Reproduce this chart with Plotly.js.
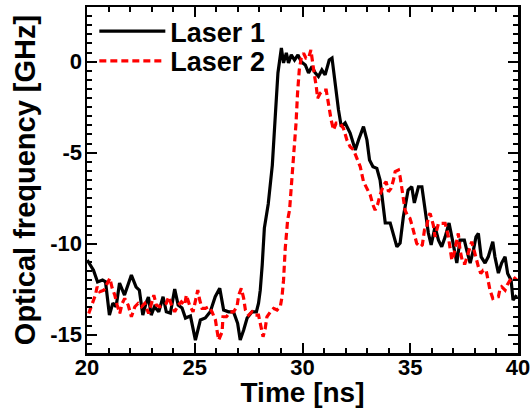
<!DOCTYPE html>
<html>
<head>
<meta charset="utf-8">
<script src="https://cdn.plot.ly/plotly-3.0.1.min.js"></script>
<style>html,body{margin:0;padding:0;background:#fff;}#chart{width:532px;height:408px;}</style>
</head>
<body>
<div id="chart"></div>
<script>
// Laser 1 (black solid)
const laser1Time = [20.01,20.30,20.49,20.72,20.86,21.04,21.20,21.35,21.51,21.74,22.06,22.28,22.43,22.59,22.74,22.85,22.98,23.13,23.33,23.53,23.68,23.87,24.07,24.23,24.41,24.57,24.80,25.03,25.26,25.49,25.72,25.95,26.16,26.34,26.57,26.80,26.99,27.11,27.27,27.43,27.66,27.86,27.96,28.04,28.13,28.23,28.41,28.60,28.74,28.86,29.02,29.12,29.25,29.35,29.48,29.63,29.79,29.94,30.13,30.28,30.44,30.59,30.74,30.90,31.05,31.24,31.37,31.52,31.67,31.80,31.98,32.21,32.45,32.60,32.83,32.99,33.11,33.27,33.45,33.60,33.71,33.84,34.07,34.21,34.38,34.53,34.68,34.90,35.07,35.19,35.38,35.54,35.69,35.84,35.97,36.15,36.31,36.46,36.62,36.80,36.96,37.16,37.31,37.51,37.62,37.78,37.93,38.05,38.16,38.29,38.47,38.62,38.83,38.93,39.09,39.24,39.40,39.52,39.68,39.77,39.94];
const laser1Freq = [-10.90,-11.45,-12.10,-11.99,-12.09,-13.92,-13.26,-13.46,-12.16,-12.82,-11.72,-12.38,-12.55,-13.92,-13.26,-12.93,-13.92,-13.46,-13.74,-12.91,-13.74,-13.81,-12.49,-13.37,-13.53,-14.08,-13.97,-15.29,-14.19,-14.08,-13.74,-12.91,-12.45,-13.64,-13.74,-13.74,-14.37,-15.29,-14.74,-14.08,-13.74,-13.74,-13.26,-12.55,-11.17,-9.14,-7.82,-5.68,-2.93,-0.62,0.75,-0.07,0.48,-0.07,0.37,0.09,0.37,0.00,-0.18,-0.62,-0.27,-0.62,-0.82,-0.46,-0.73,0.09,0.20,-1.37,-2.65,-3.57,-3.37,-3.92,-4.85,-4.30,-3.57,-4.30,-5.40,-5.77,-5.86,-6.50,-7.60,-8.86,-8.86,-9.52,-10.17,-9.96,-8.52,-7.05,-6.87,-7.76,-6.87,-6.87,-8.31,-9.41,-10.07,-9.07,-9.80,-10.17,-9.62,-8.86,-9.80,-11.06,-9.80,-9.80,-10.35,-11.06,-10.35,-9.62,-9.43,-10.72,-11.06,-10.72,-9.89,-10.72,-11.61,-11.06,-10.72,-11.63,-12.00,-13.10,-12.82];

// Laser 2 (red dashed)
const laser2Time = [20.08,20.24,20.39,20.47,20.59,20.78,20.94,21.06,21.17,21.29,21.40,21.52,21.63,21.75,21.91,22.06,22.22,22.37,22.53,22.68,22.86,22.99,23.10,23.22,23.37,23.53,23.68,23.79,23.92,24.07,24.23,24.38,24.53,24.61,24.76,24.92,25.03,25.14,25.23,25.34,25.49,25.65,25.80,25.96,26.03,26.11,26.27,26.31,26.47,26.65,26.80,26.96,27.04,27.16,27.27,27.35,27.50,27.66,27.81,27.96,28.09,28.17,28.27,28.35,28.51,28.66,28.82,28.97,29.05,29.12,29.20,29.31,29.40,29.51,29.62,29.70,29.77,29.85,29.94,30.05,30.16,30.28,30.39,30.47,30.54,30.64,30.70,30.82,30.98,31.10,31.21,31.33,31.44,31.56,31.75,31.90,32.06,32.21,32.37,32.52,32.68,32.83,32.99,33.14,33.27,33.37,33.48,33.60,33.76,33.88,33.99,34.11,34.22,34.30,34.45,34.53,34.61,34.68,34.76,34.89,34.99,35.10,35.19,35.30,35.46,35.56,35.66,35.74,35.84,35.92,36.07,36.15,36.31,36.46,36.62,36.77,36.85,36.93,37.00,37.16,37.23,37.31,37.44,37.54,37.70,37.85,37.96,38.05,38.16,38.27,38.39,38.52,38.62,38.70,38.83,38.98,39.09,39.17,39.24,39.40,39.50,39.63,39.78,39.95];
const laser2Freq = [-13.83,-13.28,-12.82,-12.36,-12.64,-12.55,-12.18,-11.90,-12.45,-12.82,-13.37,-13.83,-13.28,-13.00,-13.37,-14.01,-13.46,-13.28,-13.46,-13.28,-13.83,-13.19,-12.82,-13.37,-13.46,-13.37,-13.28,-12.91,-13.37,-13.74,-13.37,-13.19,-13.37,-12.82,-13.37,-13.74,-13.09,-12.55,-13.09,-13.55,-13.55,-13.46,-13.74,-14.19,-14.74,-15.29,-14.84,-14.01,-14.01,-13.74,-13.74,-13.46,-12.82,-12.45,-13.00,-13.64,-13.92,-13.74,-13.92,-13.92,-14.65,-15.11,-14.65,-14.01,-13.74,-13.55,-13.64,-13.46,-12.91,-12.00,-10.24,-8.70,-8.15,-6.50,-4.85,-3.38,-1.74,-0.46,0.19,0.46,0.19,0.19,0.64,0.09,-0.64,-1.37,-2.01,-1.74,-1.56,-1.56,-2.47,-3.20,-3.75,-3.38,-3.38,-3.66,-4.30,-4.67,-4.85,-5.31,-5.77,-6.59,-6.96,-7.32,-7.87,-8.15,-7.87,-7.32,-6.78,-6.59,-7.14,-6.96,-6.50,-6.04,-5.95,-6.32,-6.96,-7.60,-8.15,-8.52,-8.61,-9.07,-9.43,-9.98,-10.17,-10.07,-9.25,-9.25,-8.52,-8.33,-8.97,-9.62,-8.88,-8.88,-8.88,-9.62,-10.35,-10.90,-10.72,-9.80,-9.43,-10.35,-11.08,-11.08,-10.44,-9.89,-10.35,-10.80,-11.26,-11.63,-11.45,-11.45,-12.00,-12.55,-13.00,-12.91,-12.91,-12.45,-12.36,-12.55,-12.27,-12.00,-11.81,-12.00];

const xTickVals = [20, 25, 30, 35, 40];
const xTickText = ["20", "25", "30", "35", "40"];
const yTickVals = [0, -5, -10, -15];
const yTickText = ["0", "-5", "-10", "-15"];

const FONT = "Liberation Sans, Arial, Helvetica, sans-serif";

const traces = [
  {x: laser1Time, y: laser1Freq, type: "scatter", mode: "lines", name: "Laser 1", legend: "legend",
   line: {color: "#000000", width: 3.2}},
  {x: laser2Time, y: laser2Freq, type: "scatter", mode: "lines", name: "Laser 2", legend: "legend2",
   line: {color: "#ff0000", width: 3.2, dash: "7px,4px"}}
];

const axisCommon = {
  showline: true, linecolor: "#000", linewidth: 2.5, mirror: "allticks",
  ticks: "inside", ticklen: 10, tickwidth: 2, tickcolor: "#000",
  showgrid: false, zeroline: false, tickmode: "array",
  tickfont: {family: FONT, size: 22, color: "#000", weight: "bold"}
};

const legendCommon = {
  xanchor: "left", yanchor: "top", bgcolor: "rgba(0,0,0,0)",
  font: {family: FONT, size: 27, color: "#000", weight: "bold"},
  itemwidth: 66
};

const layout = {
  width: 532, height: 408,
  margin: {l: 87, r: 14, t: 7, b: 55},
  paper_bgcolor: "#fff", plot_bgcolor: "#fff",
  font: {family: FONT, color: "#000", weight: "bold"},
  showlegend: true,
  legend: Object.assign({}, legendCommon, {x: 0.017, y: 1.0}),
  legend2: Object.assign({}, legendCommon, {x: 0.017, y: 0.914}),
  xaxis: Object.assign({}, axisCommon, {
    range: [20, 40], tickvals: xTickVals, ticktext: xTickText, ticklabelstandoff: -7,
    minor: {tickmode: "linear", tick0: 20, dtick: 1, ticks: "inside", ticklen: 5, tickwidth: 2, tickcolor: "#000"},
    title: {text: "Time [ns]", font: {family: FONT, size: 28, color: "#000", weight: "bold"}, standoff: 7}
  }),
  yaxis: Object.assign({}, axisCommon, {
    range: [-16, 3], tickvals: yTickVals, ticktext: yTickText, ticklabelstandoff: -2,
    minor: {tickmode: "linear", tick0: 0, dtick: 0.5, ticks: "inside", ticklen: 5, tickwidth: 2, tickcolor: "#000"},
    title: {text: "Optical frequency [GHz]", font: {family: FONT, size: 29, color: "#000", weight: "bold"}, standoff: 6}
  })
};

Plotly.newPlot("chart", traces, layout, {displayModeBar: false, staticPlot: true});
</script>
</body>
</html>
